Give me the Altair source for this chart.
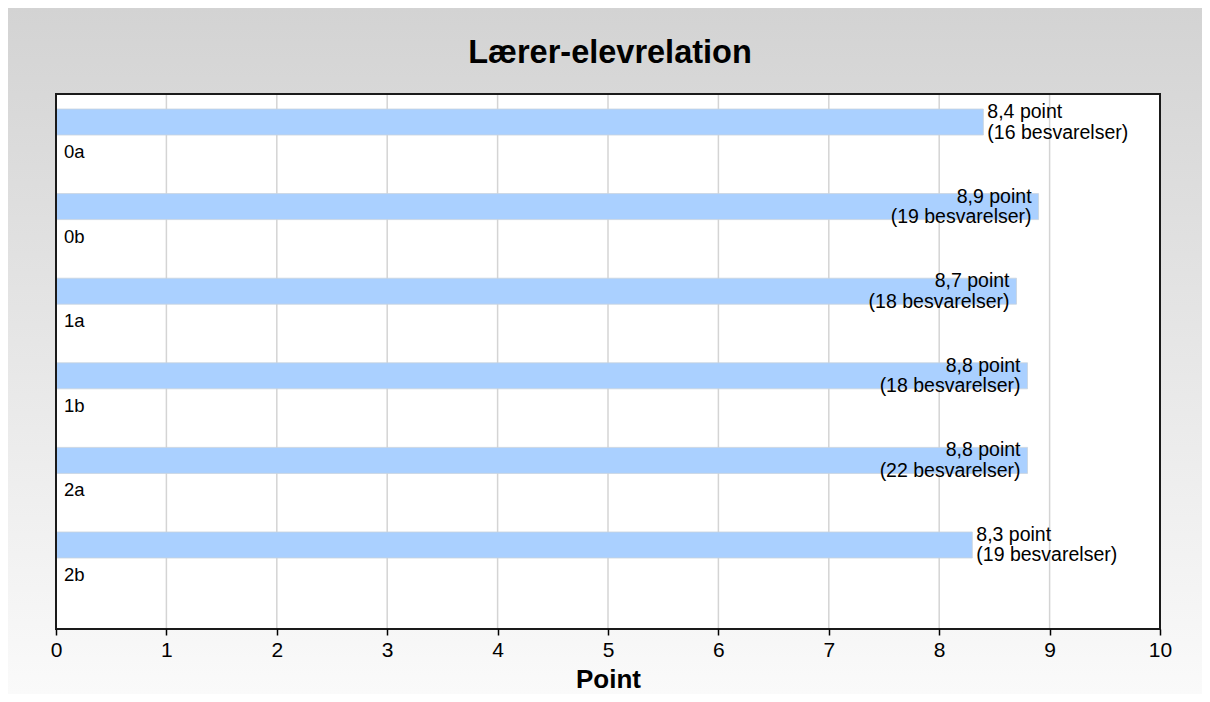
import altair as alt
import pandas as pd

categories = ["0a", "0b", "1a", "1b", "2a", "2b"]
values = [8.4, 8.9, 8.7, 8.8, 8.8, 8.3]
counts = [16, 19, 18, 18, 22, 19]
x_ticks = list(range(0, 11))
title_text = "Lærer-elevrelation"

df = pd.DataFrame({
    "cat": categories,
    "value": values,
    "n": counts,
    "pos": list(range(len(categories))),
})

W, H = 1104, 535
PL, PT, PR, PB = 48, 86, 42, 65
FONT = "Liberation Sans"

xscale = alt.Scale(domain=[0, 10], nice=False, zero=True, padding=0)
yscale = alt.Scale(domain=[-0.331, 5.993], reverse=True, nice=False, zero=False, padding=0)
xaxis = alt.Axis(values=x_ticks, grid=False, domain=False, ticks=True, tickColor="#000000",
                 tickSize=6, tickWidth=1.5, labelFontSize=21, labelColor="#000000",
                 labelFont=FONT, labelPadding=4, labelFlush=False, title="Point",
                 titleFontSize=26, titleFont=FONT, titleFontWeight="bold",
                 titleColor="#000000", titlePadding=6, format="d", zindex=1)

one = alt.Data(values=[{}])

bg = alt.Chart(one).mark_rect(
    color=alt.Gradient(gradient="linear",
                       stops=[alt.GradientStop(color="#d3d3d3", offset=0),
                              alt.GradientStop(color="#fafafa", offset=1)],
                       x1=0, x2=0, y1=0, y2=1)
).encode(x=alt.value(-PL), x2=alt.value(W + PR), y=alt.value(-PT), y2=alt.value(H + PB))

plotbg = alt.Chart(one).mark_rect(color="#ffffff").encode(
    x=alt.value(0), x2=alt.value(W), y=alt.value(0), y2=alt.value(H))

title = alt.Chart(alt.Data(values=[{"t": title_text}])).mark_text(
    align="center", baseline="alphabetic", fontSize=32.5, fontWeight="bold", font=FONT,
    color="#000000"
).encode(x=alt.value(W / 2 + 2), y=alt.value(-31), text="t:N")

grid = alt.Chart(pd.DataFrame({"tick": x_ticks})).mark_rule(
    color="#d4d4d4", strokeWidth=1.5
).encode(x=alt.X("tick:Q", scale=xscale, axis=xaxis), y=alt.value(0), y2=alt.value(H))

bars = alt.Chart(df).mark_bar(orient="horizontal", size=26, color="#aad0ff",
                              stroke="#c9d3dd", strokeWidth=0.8).encode(
    x=alt.X("value:Q", scale=xscale, axis=xaxis, stack=None),
    y=alt.Y("pos:Q", scale=yscale, axis=None),
)

labeled = alt.Chart(df).transform_calculate(
    label="replace(format(datum.value, '.1f'), '.', ',') + ' point\\n(' + datum.n + ' besvarelser)'"
)

txt_out = labeled.transform_filter("datum.value < 8.5").mark_text(
    align="left", baseline="middle", dx=4, dy=-10, fontSize=19.5, lineHeight=20.5, font=FONT,
    color="#000000", lineBreak="\n"
).encode(
    x=alt.X("value:Q", scale=xscale, axis=xaxis),
    y=alt.Y("pos:Q", scale=yscale, axis=None),
    text="label:N",
)

txt_in = labeled.transform_filter("datum.value >= 8.5").mark_text(
    align="right", baseline="middle", dx=-7, dy=-10, fontSize=19.5, lineHeight=20.5, font=FONT,
    color="#000000", lineBreak="\n"
).encode(
    x=alt.X("value:Q", scale=xscale, axis=xaxis),
    y=alt.Y("pos:Q", scale=yscale, axis=None),
    text="label:N",
)

cat_lbl = alt.Chart(df).mark_text(
    align="left", baseline="middle", dx=8, dy=30, fontSize=18.5, font=FONT, color="#000000"
).encode(
    x=alt.value(0),
    y=alt.Y("pos:Q", scale=yscale, axis=None),
    text="cat:N",
)

frame = alt.Chart(one).mark_rect(fillOpacity=0, stroke="#1a1a1a", strokeWidth=2).encode(
    x=alt.value(0), x2=alt.value(W), y=alt.value(0), y2=alt.value(H))

chart = alt.layer(bg, plotbg, title, grid, bars, txt_out, txt_in, cat_lbl, frame).properties(
    width=W, height=H,
    padding={"left": PL, "top": PT, "right": PR, "bottom": PB},
    autosize=alt.AutoSizeParams(type="none"),
).configure_view(strokeWidth=0)

chart.save("out.html", embed_options={"renderer": "svg", "actions": False})
